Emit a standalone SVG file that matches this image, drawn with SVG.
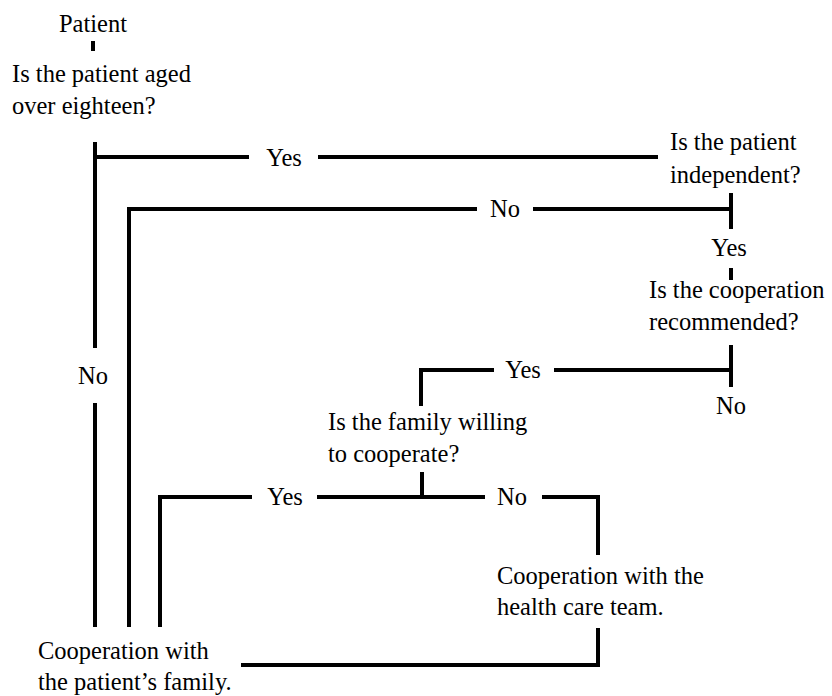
<svg xmlns="http://www.w3.org/2000/svg" width="832" height="696" viewBox="0 0 832 696">
<style>
text{font-family:"Liberation Serif","Times New Roman",serif;font-size:24.5px;fill:#000}
.c{text-anchor:middle}
.ln{stroke:#000;stroke-width:4;fill:none;stroke-linecap:butt}
</style>
<rect width="832" height="696" fill="#fff"/>
<g id="connectors" class="ln">
<path d="M93 41V51"/>
<path d="M95 142V348M95 403V627"/>
<path d="M95 157H249M318 157H658"/>
<path d="M129 627V209H477M533 209H731"/>
<path d="M731 193V229"/>
<path d="M731 268V280"/>
<path d="M731 345V387"/>
<path d="M731 370H554M494 370H421V406"/>
<path d="M422 472V497"/>
<path d="M160 627V497H252M317 497H485M542 497H598V555"/>
<path d="M598 628V665H241"/>
</g>
<g id="n-patient"><text class="c" x="93" y="32">Patient</text></g>
<g id="n-age"><text x="12" y="82">Is the patient aged</text><text x="12" y="114">over eighteen?</text></g>
<g id="n-independent"><text x="670" y="150">Is the patient</text><text x="670" y="183">independent?</text></g>
<g id="n-recommended"><text x="649" y="298">Is the cooperation</text><text x="649" y="330">recommended?</text></g>
<g id="n-willing"><text x="328" y="430">Is the family willing</text><text x="328" y="462">to cooperate?</text></g>
<g id="n-team"><text x="497" y="584">Cooperation with the</text><text x="497" y="615">health care team.</text></g>
<g id="n-family"><text x="38" y="659">Cooperation with</text><text x="38" y="690">the patient’s family.</text></g>
<g id="labels">
<text class="c" x="284" y="166">Yes</text>
<text class="c" x="505" y="217">No</text>
<text class="c" x="729" y="256">Yes</text>
<text class="c" x="731" y="414">No</text>
<text class="c" x="93" y="384">No</text>
<text class="c" x="523" y="378">Yes</text>
<text class="c" x="285" y="505">Yes</text>
<text class="c" x="512" y="505">No</text>
</g>
</svg>
